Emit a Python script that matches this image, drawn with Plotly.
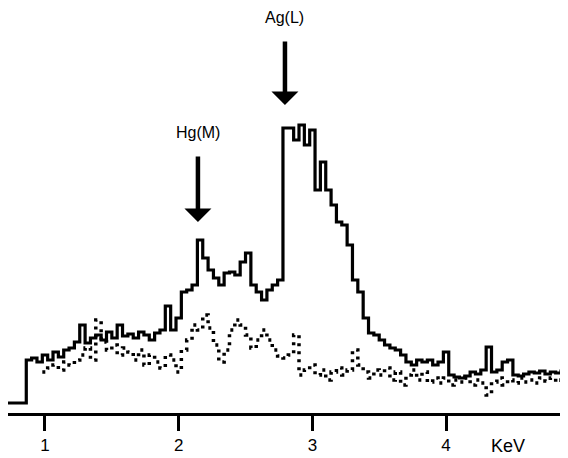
import plotly.graph_objects as go

# Energy channels (keV)
energy = [0.86, 0.90, 0.94, 0.98, 1.02, 1.06, 1.10, 1.14, 1.18, 1.22,
          1.26, 1.30, 1.34, 1.38, 1.42, 1.46, 1.50, 1.54, 1.58, 1.62,
          1.66, 1.70, 1.74, 1.78, 1.82, 1.86, 1.90, 1.94, 1.98, 2.02,
          2.06, 2.10, 2.14, 2.18, 2.22, 2.26, 2.30, 2.34, 2.38, 2.42,
          2.46, 2.50, 2.54, 2.58, 2.62, 2.66, 2.70, 2.74, 2.78, 2.82,
          2.86, 2.90, 2.94, 2.98, 3.02, 3.06, 3.10, 3.14, 3.18, 3.22,
          3.26, 3.30, 3.34, 3.38, 3.42, 3.46, 3.50, 3.54, 3.58, 3.62,
          3.66, 3.70, 3.74, 3.78, 3.82, 3.86, 3.90, 3.94, 3.98, 4.02,
          4.06, 4.10, 4.14, 4.18, 4.22, 4.26, 4.30, 4.34, 4.38, 4.42,
          4.46, 4.50, 4.54, 4.58, 4.62, 4.66, 4.70, 4.74, 4.78, 4.82,
          4.86, 4.90, 4.94]

# Solid spectrum (counts, arbitrary units)
solid_counts = [43, 45, 41, 48, 43, 51, 46, 53, 55, 61,
                78, 60, 65, 68, 63, 71, 65, 78, 67, 69,
                65, 71, 68, 63, 70, 73, 97, 73, 85, 111,
                113, 118, 163, 145, 133, 125, 118, 130, 131, 128,
                141, 150, 118, 111, 103, 113, 118, 123, 275, 275,
                263, 278, 258, 273, 213, 241, 213, 198, 181, 178,
                158, 123, 111, 85, 70, 68, 63, 58, 55, 53,
                48, 41, 38, 43, 41, 43, 38, 41, 51, 28,
                26, 25, 27, 31, 29, 33, 56, 31, 33, 41,
                43, 28, 27, 29, 31, 30, 32, 29, 31, 30,
                32, 31, 30]

# Dotted spectrum starts at 0.98 keV
dotted_energy = energy[3:]
dotted_counts = [31, 35, 38, 33, 41, 38, 43, 48, 55, 43,
                 83, 61, 53, 58, 48, 55, 51, 43, 53, 38,
                 48, 41, 35, 48, 43, 31, 53, 63, 78, 73,
                 88, 75, 58, 41, 53, 73, 83, 78, 68, 55,
                 63, 73, 63, 53, 47, 45, 48, 68, 28, 33,
                 38, 28, 33, 23, 31, 35, 28, 33, 53, 38,
                 31, 25, 33, 28, 35, 23, 31, 18, 28, 33,
                 23, 31, 21, 25, 20, 25, 18, 23, 21, 25,
                 18, 23, 20, 8, 21, 25, 18, 23, 20, 25,
                 21, 23, 20, 25, 22, 25, 21, 23, 24, 22]

baseline_start = 0.70

tick_vals = [1, 2, 3, 4]
tick_text = ["1", "2", "3", "4"]

peaks = [("Hg(M)", 2.144, 181, 248), ("Ag(L)", 2.795, 298, 363)]

FONT = "Liberation Sans, Arial"

fig = go.Figure()

fig.add_trace(go.Scatter(
    x=dotted_energy, y=dotted_counts, mode="lines", line_shape="hv",
    line=dict(color="black", width=3.5, dash="3px,5px"), hoverinfo="skip"))

fig.add_trace(go.Scatter(
    x=[baseline_start] + energy, y=[0] + solid_counts, mode="lines",
    line_shape="hv", line=dict(color="black", width=3.2), hoverinfo="skip"))

annotations = []
for label, e, tip, tail in peaks:
    annotations.append(dict(
        x=e, y=tip, ax=e, ay=tail, xref="x", yref="y", axref="x", ayref="y",
        showarrow=True, arrowhead=1, arrowsize=1.0, arrowwidth=4.5,
        arrowcolor="black", text=""))
    annotations.append(dict(
        x=e, y=tail + 12, xref="x", yref="y", text=label, showarrow=False,
        yanchor="bottom", font=dict(family=FONT, size=16, color="black")))

annotations.append(dict(
    x=4.463, y=-0.081, xref="x", yref="paper", text="KeV", showarrow=False,
    yanchor="middle", font=dict(family=FONT, size=18, color="black")))

fig.update_layout(
    width=568, height=458,
    margin=dict(l=0, r=0, t=0, b=53),
    paper_bgcolor="white", plot_bgcolor="white",
    showlegend=False,
    annotations=annotations,
    xaxis=dict(range=[0.7233, 4.972], showgrid=False, zeroline=False,
               showline=True, linecolor="black", linewidth=3,
               ticks="outside", ticklen=15, tickwidth=3, tickcolor="black",
               tickvals=tick_vals, ticktext=tick_text, ticklabelstandoff=0,
               tickfont=dict(family=FONT, size=17, color="black")),
    yaxis=dict(range=[-10, 395], visible=False, showgrid=False, zeroline=False),
)

fig.write_html("out.html")
